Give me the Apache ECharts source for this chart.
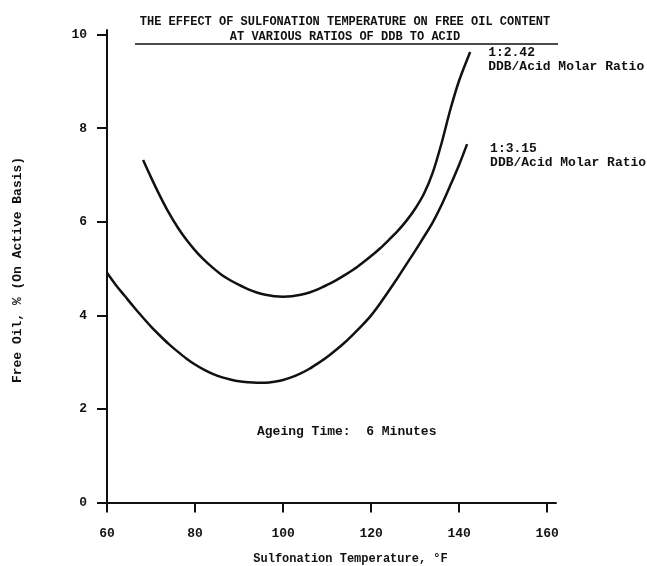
<!DOCTYPE html>
<html lang="en">
<head>
    <meta charset="UTF-8">
    <title>Sulfonation Temperature vs Free Oil</title>
    <script src="https://cdn.jsdelivr.net/npm/echarts@6/dist/echarts.min.js"></script>
    <style>
        html, body { margin: 0; padding: 0; background: #fff; }
    </style>
</head>
<body>

<div id="chart" style="width: 647px;height: 566px"></div>

<script>
    // curve 1:2.42 DDB/Acid
    var temp242 = [68.2, 70, 72, 74, 76, 78, 80, 82, 84, 86, 88, 90, 92, 94, 96, 98, 100, 102, 104, 106, 108, 110,
                   112, 114, 116, 118, 120, 122, 124, 126, 128, 130, 132, 134, 136, 138, 140, 142.5];
    var oil242  = [7.32, 6.95, 6.56, 6.20, 5.89, 5.62, 5.39, 5.19, 5.02, 4.87, 4.75, 4.65, 4.56, 4.49, 4.44, 4.41, 4.40, 4.41, 4.44, 4.49, 4.56, 4.65,
                   4.75, 4.86, 4.98, 5.12, 5.27, 5.43, 5.61, 5.80, 6.02, 6.28, 6.60, 7.05, 7.68, 8.40, 9.02, 9.63];
    // curve 1:3.15 DDB/Acid
    var temp315 = [60, 62, 64, 66, 68, 70, 72, 74, 76, 78, 80, 82, 84, 86, 88, 90, 92, 94, 96, 98, 100, 102, 104, 106,
                   108, 110, 112, 114, 116, 118, 120, 122, 124, 126, 128, 130, 132, 134, 136, 138, 140, 141.8];
    var oil315  = [4.91, 4.65, 4.42, 4.19, 3.97, 3.76, 3.57, 3.39, 3.23, 3.08, 2.95, 2.84, 2.75, 2.68, 2.63, 2.59, 2.57, 2.56, 2.56, 2.58, 2.62, 2.68, 2.76, 2.86,
                   2.98, 3.11, 3.26, 3.42, 3.60, 3.79, 4.00, 4.25, 4.52, 4.80, 5.09, 5.38, 5.68, 5.99, 6.36, 6.78, 7.22, 7.66];

    var xTicks = [60, 80, 100, 120, 140, 160];
    var yTicks = [0, 2, 4, 6, 8, 10];

    var font = 'Liberation Mono';
    var ink = '#111';

    function pairs(xs, ys) {
        return xs.map(function (x, i) { return [x, ys[i]]; });
    }

    var myChart = echarts.init(document.getElementById('chart'));

    var option = {
        animation: false,
        backgroundColor: '#fff',
        title: {
            text: 'THE EFFECT OF SULFONATION TEMPERATURE ON FREE OIL CONTENT\nAT VARIOUS RATIOS OF DDB TO ACID',
            left: 340,
            top: 9,
            textAlign: 'center',
            textStyle: {
                fontFamily: font,
                fontSize: 12,
                fontWeight: 'bold',
                color: ink,
                lineHeight: 15
            }
        },
        grid: {
            left: 107,
            right: 91,
            top: 30,
            bottom: 56,
            outerBoundsMode: 'none'
        },
        xAxis: {
            type: 'value',
            min: 60,
            max: 162,
            name: 'Sulfonation Temperature, \u00B0F',
            nameLocation: 'middle',
            nameGap: 43,
            nameTextStyle: {
                fontFamily: font, fontSize: 12, fontWeight: 'bold', color: ink,
                padding: [0, 0, 0, 38]
            },
            axisLine: { onZero: true, lineStyle: { color: ink, width: 2 } },
            axisTick: { customValues: xTicks, length: 10, lineStyle: { color: ink, width: 2 } },
            axisLabel: {
                customValues: xTicks, margin: 17,
                fontFamily: font, fontSize: 13, fontWeight: 'bold', color: ink
            },
            splitLine: { show: false }
        },
        yAxis: {
            type: 'value',
            min: -0.16,
            max: 10.1,
            name: 'Free Oil, % (On Active Basis)',
            nameLocation: 'middle',
            nameGap: 83,
            nameTextStyle: { fontFamily: font, fontSize: 13, fontWeight: 'bold', color: ink },
            axisLine: { lineStyle: { color: ink, width: 2 } },
            axisTick: { customValues: yTicks, length: 10, lineStyle: { color: ink, width: 2 } },
            axisLabel: {
                customValues: yTicks, margin: 20,
                fontFamily: font, fontSize: 13, fontWeight: 'bold', color: ink
            },
            splitLine: { show: false }
        },
        series: [
            {
                name: '1:2.42',
                type: 'line',
                smooth: 0.3,
                showSymbol: false,
                data: pairs(temp242, oil242),
                lineStyle: { color: ink, width: 2.5 },
                endLabel: {
                    show: true,
                    formatter: '1:2.42\nDDB/Acid Molar Ratio',
                    offset: [10, 8],
                    fontFamily: font, fontSize: 13, fontWeight: 'bold', color: ink,
                    lineHeight: 14, align: 'left'
                }
            },
            {
                name: '1:3.15',
                type: 'line',
                smooth: 0.3,
                showSymbol: false,
                data: pairs(temp315, oil315),
                lineStyle: { color: ink, width: 2.5 },
                endLabel: {
                    show: true,
                    formatter: '1:3.15\nDDB/Acid Molar Ratio',
                    offset: [15, 12],
                    fontFamily: font, fontSize: 13, fontWeight: 'bold', color: ink,
                    lineHeight: 14, align: 'left'
                }
            }
        ],
        graphic: [
            {
                type: 'line',
                shape: { x1: 135, y1: 44, x2: 558, y2: 44 },
                style: { stroke: ink, lineWidth: 1.5 }
            },
            {
                type: 'text',
                left: 257,
                top: 425,
                style: {
                    text: 'Ageing Time:  6 Minutes',
                    fontFamily: font, fontSize: 13, fontWeight: 'bold', fill: ink
                }
            }
        ]
    };

    myChart.setOption(option);
</script>

</body>
</html>
